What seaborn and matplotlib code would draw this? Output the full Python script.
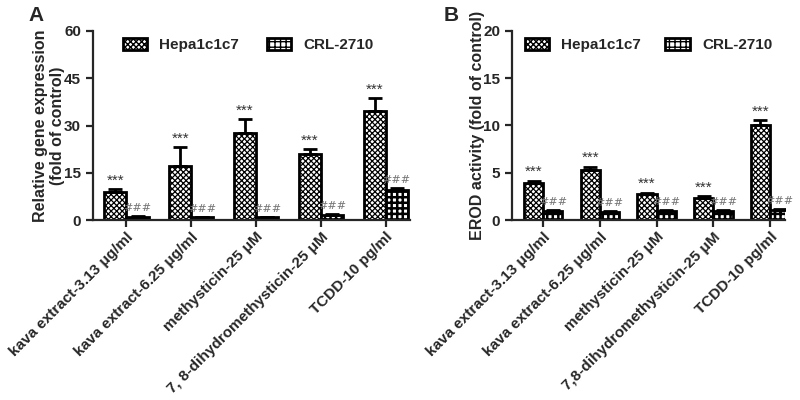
import numpy as np
import pandas as pd
import matplotlib
matplotlib.use("Agg")
import matplotlib.pyplot as plt
import matplotlib.patches as mpatches
import seaborn as sns

# --- data ---
treat_a = ["kava extract-3.13 μg/ml", "kava extract-6.25 μg/ml", "methysticin-25 μM",
           "7, 8-dihydromethysticin-25 μM", "TCDD-10 pg/ml"]
treat_b = ["kava extract-3.13 μg/ml", "kava extract-6.25 μg/ml", "methysticin-25 μM",
           "7,8-dihydromethysticin-25 μM", "TCDD-10 pg/ml"]
cells = ["Hepa1c1c7", "CRL-2710"]

gene_hepa = [9.0, 17.2, 27.7, 21.0, 34.7]
gene_hepa_err = [0.8, 6.0, 4.3, 1.6, 3.9]
gene_crl = [1.0, 0.8, 0.9, 1.7, 9.5]
gene_crl_err = [0.2, 0.2, 0.2, 0.3, 0.6]

erod_hepa = [3.9, 5.3, 2.7, 2.3, 10.1]
erod_hepa_err = [0.25, 0.35, 0.2, 0.2, 0.5]
erod_crl = [1.0, 0.85, 1.0, 0.95, 1.05]
erod_crl_err = [0.1, 0.1, 0.1, 0.1, 0.15]

sns.set_theme(style="ticks")
plt.rcParams["font.family"] = ["Liberation Sans", "DejaVu Sans"]
plt.rcParams["font.weight"] = "bold"
plt.rcParams["hatch.linewidth"] = 1.0
plt.rcParams["axes.linewidth"] = 1.6

hatches = ["xxxxxx", "+++"]
hatch_lw = [0.9, 1.8]


def style_patch(p, i):
    p.set_edgecolor("black")
    p.set_linewidth(2)
    p.set_hatch(hatches[i])
    if hasattr(p, "set_hatch_linewidth"):
        p.set_hatch_linewidth(hatch_lw[i])
    else:
        p._hatch_linewidth = hatch_lw[i]


def panel(ax, labels, hepa, hepa_err, crl, crl_err, ymax, yticks, ylabel, xlim,
          legend_x, colspace):
    df = pd.DataFrame({
        "treatment": labels * 2,
        "value": hepa + crl,
        "cell": [cells[0]] * len(labels) + [cells[1]] * len(labels),
    })
    sns.barplot(data=df, x="treatment", y="value", hue="cell", order=labels,
                hue_order=cells, errorbar=None, width=0.68, ax=ax,
                palette=["white", "white"], legend=False)
    errs = [hepa_err, crl_err]
    bar_groups = list(ax.containers)
    for i, cont in enumerate(bar_groups):
        for p in cont.patches:
            style_patch(p, i)
        xs = [p.get_x() + p.get_width() / 2 for p in cont.patches]
        ys = [p.get_height() for p in cont.patches]
        ax.errorbar(xs, ys, yerr=[np.zeros(len(ys)), errs[i]], fmt="none",
                    ecolor="black", elinewidth=2, capsize=5, capthick=2, zorder=1)
        for x, y, e in zip(xs, ys, errs[i]):
            if i == 0:
                ax.text(x, y + e + ymax * 0.008, "***", ha="center", va="bottom",
                        fontsize=11, color="#333333", fontweight="normal")
            else:
                ax.text(x, y + e + ymax * 0.015, "###", ha="center", va="bottom",
                        fontsize=8, color="#777777", fontweight="normal",
                        style="italic", family="DejaVu Serif")
    ax.set_ylim(0, ymax)
    ax.set_yticks(yticks)
    ax.set_xlim(*xlim)
    ax.set_xlabel("")
    ax.set_ylabel(ylabel, fontsize=11.5, fontweight="bold", labelpad=-1)
    ax.set_xticks(range(len(labels)))
    ax.set_xticklabels(labels, rotation=45, ha="right", rotation_mode="anchor",
                       fontsize=11, fontweight="bold")
    ax.tick_params(axis="both", width=1.6, length=5, labelsize=11)
    ax.tick_params(axis="x", pad=2, labelsize=11)
    sns.despine(ax=ax)
    handles = []
    for i, c in enumerate(cells):
        h = mpatches.Patch(facecolor="white", label=c)
        style_patch(h, i)
        handles.append(h)
    ax.legend(handles=handles, loc="upper center", ncol=2, frameon=False,
              fontsize=11, handlelength=1.6, handleheight=0.8,
              columnspacing=colspace, bbox_to_anchor=(legend_x, 1.035))


fig = plt.figure(figsize=(8, 4), dpi=100)
ax_a = fig.add_axes([0.116, 0.45, 0.396, 0.4725])
ax_b = fig.add_axes([0.64, 0.45, 0.341, 0.4725])

panel(ax_a, treat_a, gene_hepa, gene_hepa_err, gene_crl, gene_crl_err, 60,
      [0, 15, 30, 45, 60], "Relative gene expression\n(fold of control)", (-0.52, 4.37),
      0.49, 1.8)
panel(ax_b, treat_b, erod_hepa, erod_hepa_err, erod_crl, erod_crl_err, 20,
      [0, 5, 10, 15, 20], "EROD activity (fold of control)", (-0.55, 4.26),
      0.5, 1.6)

fig.text(0.035, 0.985, "A", fontsize=15, fontweight="bold", va="top")
fig.text(0.555, 0.985, "B", fontsize=15, fontweight="bold", va="top")

fig.savefig("out.png", dpi=100)
